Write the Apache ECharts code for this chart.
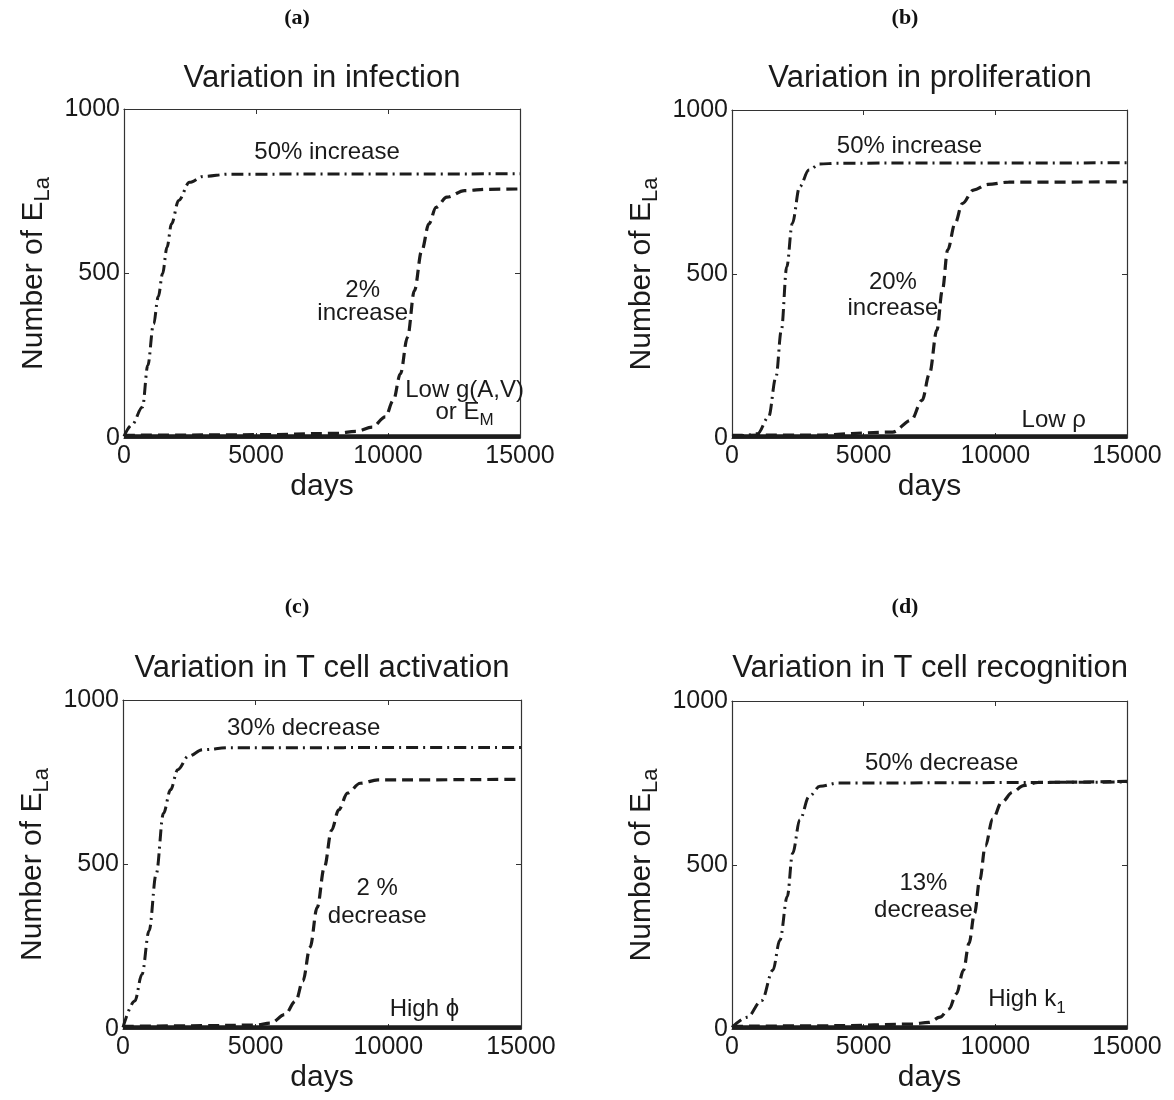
<!DOCTYPE html>
<html>
<head>
<meta charset="utf-8">
<script src="https://cdn.jsdelivr.net/npm/echarts@6/dist/echarts.min.js"></script>
<style>html,body{margin:0;padding:0;background:#fff;}#c{width:1174px;height:1100px;}</style>
</head>
<body>
<div id="c"></div>
<script>
// ---------- data ----------
const panelLetters = ['(a)', '(b)', '(c)', '(d)'];
const panelTitles = ['Variation in infection', 'Variation in proliferation',
  'Variation in T cell activation', 'Variation in T cell recognition'];
const xTickValues = [0, 5000, 10000, 15000];
const yTickValues = [0, 500, 1000];

// (a) infection
const aDashDotDays = [0, 300, 700, 900, 1120, 1300, 1460, 1630, 1800, 2070, 2480, 3000, 4000, 15000];
const aDashDotVals = [5, 40, 94, 220, 347, 430, 499, 580, 651, 722, 777, 795, 802, 803];
const aDashedDays = [0, 2000, 5000, 8000, 8800, 9400, 9900, 10200, 10470, 10740, 11000, 11280, 11550, 11820, 12230, 12900, 13800, 15000];
const aDashedVals = [8, 9, 10, 14, 20, 33, 64, 114, 195, 307, 448, 570, 651, 701, 732, 752, 756, 757];
const aSolidDays = [0, 5000, 10000, 15000];
const aSolidVals = [5, 5, 5, 5];

// (b) proliferation
const bDashDotDays = [0, 500, 970, 1390, 1670, 1875, 2080, 2290, 2570, 2920, 3330, 4000, 15000];
const bDashDotVals = [5, 8, 13, 64, 186, 329, 522, 654, 766, 817, 835, 838, 839];
const bDashedDays = [0, 3000, 6100, 6800, 7220, 7500, 7780, 7990, 8190, 8470, 8750, 9170, 9720, 10500, 15000];
const bDashedVals = [8, 9, 18, 54, 115, 196, 329, 451, 573, 654, 715, 756, 773, 780, 781];
const bSolidDays = [0, 5000, 10000, 15000];
const bSolidVals = [5, 5, 5, 5];

// (c) T cell activation
const cDashDotDays = [0, 445, 714, 984, 1253, 1523, 1792, 2062, 2466, 3005, 4000, 15000];
const cDashDotVals = [5, 85, 166, 299, 472, 655, 727, 788, 829, 849, 855, 856];
const cDashedDays = [0, 3000, 5000, 5570, 6100, 6510, 6780, 7050, 7320, 7590, 7860, 8130, 8460, 8940, 9610, 15000];
const cDashedVals = [8, 10, 12, 18, 44, 85, 146, 248, 370, 492, 604, 666, 717, 747, 757, 759];
const cSolidDays = [0, 5000, 10000, 15000];
const cSolidVals = [5, 5, 5, 5];

// (d) T cell recognition
const dDashDotDays = [0, 580, 1130, 1550, 1820, 2100, 2300, 2580, 2930, 3340, 4030, 15000];
const dDashDotVals = [5, 36, 87, 179, 271, 404, 535, 638, 709, 740, 750, 753];
const dDashedDays = [0, 4000, 6800, 7480, 7900, 8240, 8520, 8790, 9000, 9210, 9410, 9620, 9900, 10240, 10660, 11070, 11620, 15000];
const dDashedVals = [8, 10, 15, 20, 36, 61, 107, 179, 261, 353, 455, 558, 640, 691, 722, 742, 752, 755];
const dSolidDays = [0, 5000, 10000, 15000];
const dSolidVals = [5, 5, 5, 5];

// annotations: [day, value, text]
const aNotes = [[7690, 868, '50% increase'], [9040, 450, '2%'], [9040, 380, 'increase'],
  [12900, 145, 'Low g(A,V)'], [12900, 79, 'or E{sub|M}']];
const bNotes = [[6740, 890, '50% increase'], [6110, 473, '20%'], [6110, 395, 'increase'], [12220, 54, 'Low ρ']];
const cNotes = [[6810, 915, '30% decrease'], [9580, 426, '2 %'], [9580, 341, 'decrease'], [11360, 59, 'High ϕ']];
const dNotes = [[7960, 811, '50% decrease'], [7270, 445, '13%'], [7270, 363, 'decrease'], [11200, 89, 'High k{sub|1}']];

// ---------- layout ----------
const grids = [
  {left: 124, top: 109, width: 396, height: 329},
  {left: 732, top: 110, width: 395, height: 328},
  {left: 123, top: 700, width: 398, height: 329},
  {left: 732, top: 701, width: 395, height: 328}
];
const labelPos = [[297, 18], [905, 18], [297, 607], [905, 607]];
const titlePos = [[322, 78], [930, 78], [322, 668], [930, 668]];

const panels = [
  {dd: [aDashDotDays, aDashDotVals], da: [aDashedDays, aDashedVals], so: [aSolidDays, aSolidVals], notes: aNotes},
  {dd: [bDashDotDays, bDashDotVals], da: [bDashedDays, bDashedVals], so: [bSolidDays, bSolidVals], notes: bNotes},
  {dd: [cDashDotDays, cDashDotVals], da: [cDashedDays, cDashedVals], so: [cSolidDays, cSolidVals], notes: cNotes},
  {dd: [dDashDotDays, dDashDotVals], da: [dDashedDays, dDashedVals], so: [dSolidDays, dSolidVals], notes: dNotes}
];

const FONT = 'Liberation Sans, Arial, Helvetica, sans-serif';
const INK = '#1c1c1c';
const TXT = '#1a1a1a';
const zip = (xs, ys) => xs.map((x, i) => [x, ys[i]]);
const plain = v => String(v);

const xAxes = [], yAxes = [], series = [], graphics = [];
panels.forEach((p, i) => {
  const tickCommon = {show: true, inside: true, length: 5, lineStyle: {color: '#333', width: 1}};
  xAxes.push({
    gridIndex: i, type: 'value', min: 0, max: 15000, interval: 5000, position: 'bottom',
    axisLine: {show: true, onZero: false, lineStyle: {color: '#333', width: 1.2}},
    axisTick: tickCommon, splitLine: {show: false},
    axisLabel: {color: TXT, fontSize: 25, fontFamily: FONT, margin: 6, formatter: plain},
    name: 'days', nameLocation: 'middle', nameGap: 34,
    nameTextStyle: {color: TXT, fontSize: 30, fontFamily: FONT}
  });
  xAxes.push({
    gridIndex: i, type: 'value', min: 0, max: 15000, interval: 5000, position: 'top',
    axisLine: {show: true, onZero: false, lineStyle: {color: '#333', width: 1.2}},
    axisTick: tickCommon, axisLabel: {show: false}, splitLine: {show: false}
  });
  yAxes.push({
    gridIndex: i, type: 'value', min: 0, max: 1000, interval: 500, position: 'left',
    axisLine: {show: true, onZero: false, lineStyle: {color: '#333', width: 1.2}},
    axisTick: tickCommon, splitLine: {show: false},
    axisLabel: {color: TXT, fontSize: 25, fontFamily: FONT, margin: 4, formatter: plain},
    name: 'Number of E{sub|La}', nameLocation: 'middle', nameRotate: 90, nameGap: 70,
    nameTextStyle: {color: TXT, fontSize: 30, fontFamily: FONT,
      rich: {sub: {fontSize: 22, fontFamily: FONT, color: TXT, verticalAlign: 'bottom', padding: [18, 0, 0, 0]}}}
  });
  yAxes.push({
    gridIndex: i, type: 'value', min: 0, max: 1000, interval: 500, position: 'right',
    axisLine: {show: true, onZero: false, lineStyle: {color: '#333', width: 1.2}},
    axisTick: tickCommon, axisLabel: {show: false}, splitLine: {show: false}
  });
  const xi = 2 * i, yi = 2 * i;
  series.push({
    type: 'line', xAxisIndex: xi, yAxisIndex: yi, data: zip(p.so[0], p.so[1]), symbol: 'none',
    lineStyle: {color: INK, width: 4, type: 'solid'}, silent: true, z: 3
  });
  series.push({
    type: 'line', xAxisIndex: xi, yAxisIndex: yi, data: zip(p.da[0], p.da[1]), symbol: 'none',
    smooth: 0.35, smoothMonotone: 'x',
    lineStyle: {color: INK, width: 3.2, type: [11, 6]}, silent: true, z: 4
  });
  series.push({
    type: 'line', xAxisIndex: xi, yAxisIndex: yi, data: zip(p.dd[0], p.dd[1]), symbol: 'none',
    smooth: 0.35, smoothMonotone: 'x',
    lineStyle: {color: INK, width: 3, type: [12, 5, 2, 5]}, silent: true, z: 5
  });
  series.push({
    type: 'scatter', xAxisIndex: xi, yAxisIndex: yi, symbolSize: 0, silent: true, z: 6,
    itemStyle: {opacity: 1, color: TXT},
    data: p.notes.map(n => ({value: [n[0], n[1]], label: {formatter: n[2]}})),
    label: {show: true, position: 'inside', color: TXT, opacity: 1, fontSize: 24, fontFamily: FONT,
      rich: {sub: {fontSize: 17, fontFamily: FONT, color: TXT, verticalAlign: 'bottom', padding: [17, 0, 0, 0]}}}
  });
  graphics.push({type: 'text', x: labelPos[i][0], y: labelPos[i][1],
    style: {text: panelLetters[i], fill: '#111', font: 'bold 22px "Liberation Serif", "DejaVu Serif", serif',
      textAlign: 'center', textVerticalAlign: 'middle'}});
  graphics.push({type: 'text', x: titlePos[i][0], y: titlePos[i][1],
    style: {text: panelTitles[i], fill: TXT, font: '31px ' + FONT,
      textAlign: 'center', textVerticalAlign: 'middle'}});
});

const chart = echarts.init(document.getElementById('c'), null, {renderer: 'canvas'});
chart.setOption({
  backgroundColor: '#fff',
  animation: false,
  grid: grids.map(g => Object.assign({containLabel: false}, g)),
  xAxis: xAxes,
  yAxis: yAxes,
  series: series,
  graphic: graphics
});
</script>
</body>
</html>
